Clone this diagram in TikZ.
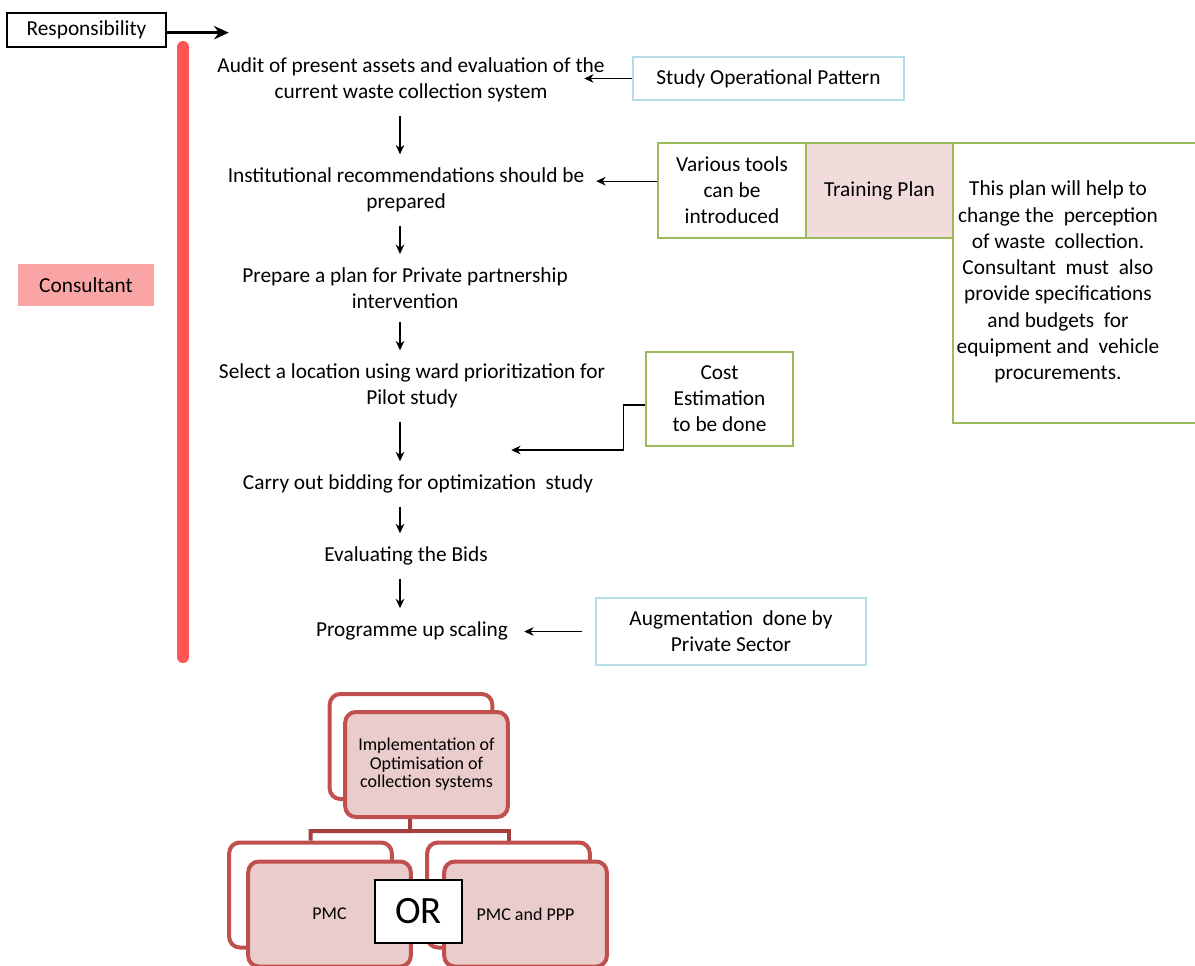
\documentclass[tikz,border=0pt]{standalone}
\usepackage{fontspec}
\setmainfont{Carlito}
\usetikzlibrary{arrows.meta}
\definecolor{barred}{RGB}{255,85,85}
\definecolor{consfill}{RGB}{249,165,165}
\definecolor{lightblue}{RGB}{183,221,232}
\definecolor{leafgreen}{RGB}{155,187,89}
\definecolor{planfill}{RGB}{242,220,219}
\definecolor{orgline}{RGB}{192,80,77}
\definecolor{orgconn}{RGB}{165,64,62}
\definecolor{orgfill}{RGB}{233,204,203}
\begin{document}
\begin{tikzpicture}[x=0.75pt,y=-0.75pt,
  every node/.style={font=\fontsize{16}{19.5}\selectfont},
  steptext/.style={align=center, inner sep=0pt},
  arr/.style={-{Stealth[length=7pt,width=6.5pt]}, line width=0.9pt},
  bluebox/.style={draw=lightblue, line width=1.1pt, align=center, inner sep=2pt},
  greenbox/.style={draw=leafgreen, line width=1.1pt, align=center, inner sep=2pt},
  orgback/.style={draw=orgline, fill=white, line width=3pt, rounded corners=8pt,
    minimum width=122pt, minimum height=78.75pt},
  orgfront/.style={draw=orgline, fill=orgfill, line width=3pt, rounded corners=8pt,
    minimum width=122pt, minimum height=78.75pt, align=center,
    font=\fontsize{13.5}{14}\selectfont},
  orgconnector/.style={draw=orgconn, line width=3pt}
]
\useasboundingbox (0,0) rectangle (1195,965);
\clip (0,0) rectangle (1195,965);

% responsibility header and the consultant bar
\node[draw=black, line width=1.1pt, minimum width=119.25pt, minimum height=25.5pt] (resp) at (86.5,30) {Responsibility};
\draw[-{Stealth[length=11pt,width=10pt]}, line width=2.2pt] ([yshift=-2pt]resp.east) -- ++(62,0);
\draw[barred, line width=9pt, line cap=round] (183,47) -- (183,657);
\node[fill=consfill, minimum width=102pt, minimum height=31.5pt] (cons) at (86,285) {Consultant};

% main sequence of steps
\node[steptext] (s1) at (411,80) {Audit of present assets and evaluation of the\\current waste collection system};
\node[steptext] (s2) at (406,190) {Institutional recommendations should be\\prepared};
\node[steptext] (s3) at (405,288) {Prepare a plan for Private partnership\\intervention};
\node[steptext] (s4) at (412,386) {Select a location using ward prioritization for\\Pilot study};
\node[steptext] (s5) at (418,484) {Carry out bidding for optimization\ \ study};
\node[steptext] (s6) at (406,556) {Evaluating the Bids};
\node[steptext] (s7) at (412,631) {Programme up scaling};

\coordinate (ax) at (400,0);
\foreach \a/\b in {s1/s2,s2/s3,s3/s4,s4/s5,s5/s6,s6/s7}
  \draw[arr, shorten <=10pt, shorten >=10pt] (\a.south -| ax) -- (\b.north -| ax);

% side boxes
\node[bluebox, minimum width=203.25pt, minimum height=32.25pt] (study) at (768.5,78.5) {Study Operational Pattern};
\draw[arr] (study.west) -- ++(-48,0);

\node[greenbox, minimum width=111pt, minimum height=71.25pt] (tools) at (732,190.5) {Various tools\\can be\\introduced};
\node[greenbox, fill=planfill, minimum width=110.25pt, minimum height=71.25pt] (train) at (879.5,190.5) {Training Plan};
\node[greenbox, minimum width=193.5pt, minimum height=210pt] (desc) at (1082,283) {};
\node[steptext, font=\fontsize{16}{19.7}\selectfont] (desctext) at (1058,282) {This plan will help to\\change the\ \ perception\\of waste\ \ collection.\\Consultant\ \ must\ \ also\\provide specifications\\and budgets\ \ for\\equipment and\ \ vehicle\\procurements.};
\draw[arr] ([yshift=7pt]tools.west) -- ++(-61,0);

\node[greenbox, minimum width=110.25pt, minimum height=70.5pt] (cost) at (719.5,399) {Cost\\Estimation\\to be done};
\draw[arr] ([yshift=-4.5pt]cost.west) -- ++(-22,0) -- ++(0,45) -- ++(-112,0);

\node[bluebox, minimum width=202.5pt, minimum height=50.25pt] (aug) at (731,631.5) {Augmentation\ \ done by\\Private Sector};
\draw[arr, shorten <=9.75pt] (aug.west) -- ++(-71,0);

% implementation hierarchy
\node[orgback] (implback) at (411,746.5) {};
\node[orgback] (lback) at (310.5,895) {};
\node[orgback] (rback) at (508.5,895) {};
\draw[orgconnector] (implback.center) -- (410,831) -| (lback.north);
\draw[orgconnector] (410,831) -| (rback.north);
\node[orgfront] (impl) at (426.5,764.5) {Implementation of\\Optimisation of\\collection systems};
\node[orgfront] (pmc) at (329.5,914) {PMC};
\node[orgfront] (pmcppp) at (525.5,914) {PMC and PPP};
\node[draw=black, fill=white, line width=1.1pt, minimum width=65.25pt, minimum height=47.25pt,
  font=\fontsize{29}{32}\selectfont] (or) at (418.5,911.5) {OR};
\end{tikzpicture}
\end{document}
